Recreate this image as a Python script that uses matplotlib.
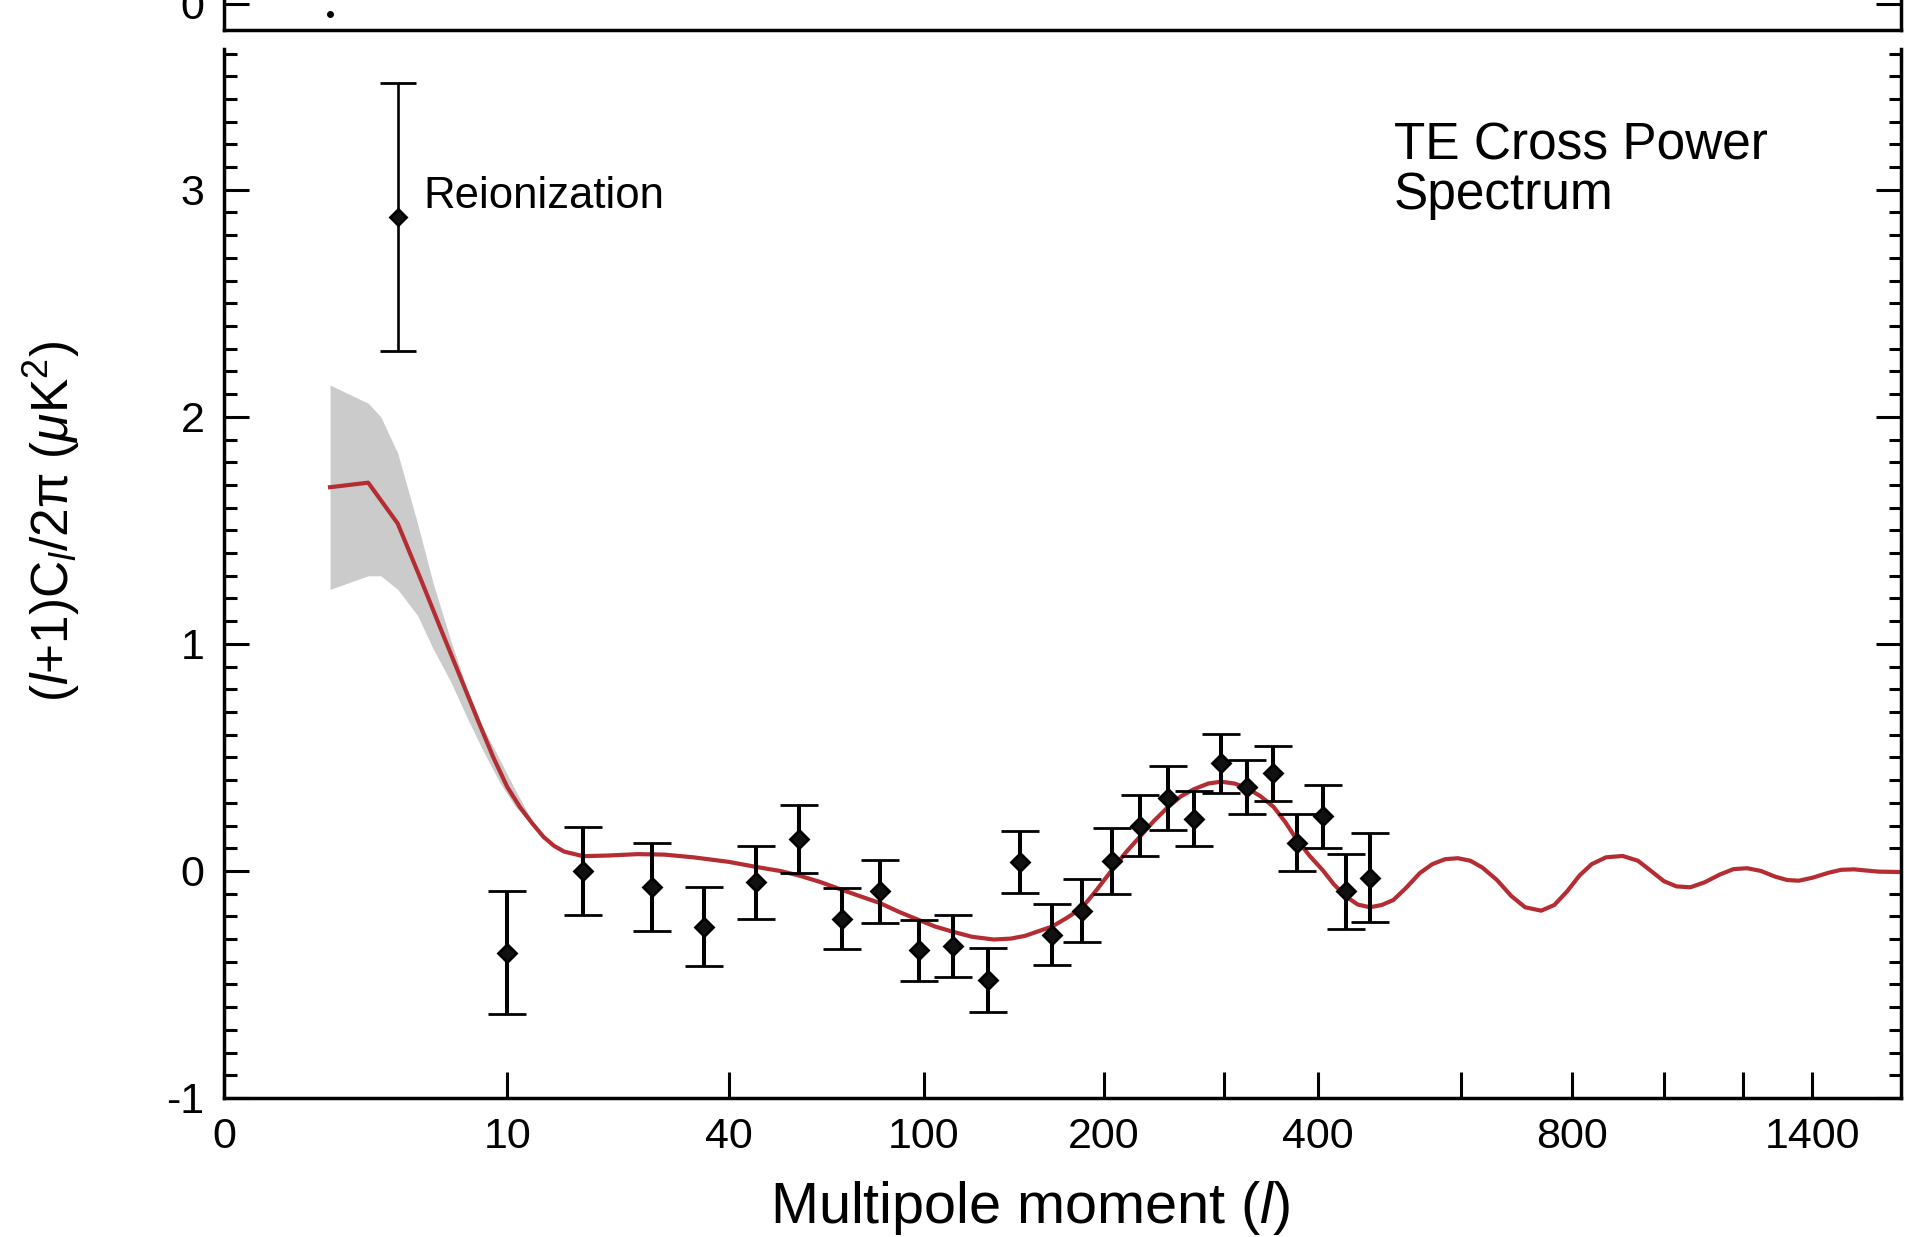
import numpy as np
import matplotlib.pyplot as plt
from matplotlib.ticker import FixedLocator, MultipleLocator, NullLocator

plt.rcParams['font.family'] = ['Liberation Sans', 'DejaVu Sans']
plt.rcParams['mathtext.fontset'] = 'custom'
plt.rcParams['mathtext.rm'] = 'Liberation Sans'
plt.rcParams['mathtext.it'] = 'Liberation Sans:italic'
plt.rcParams['axes.unicode_minus'] = False

# binned TE cross power, (l+1)C_l/2pi in uK^2
ell = [10, 17, 26, 35, 46, 57, 70, 83, 98, 113, 130, 147, 166, 185, 206,
       227, 250, 272, 297, 322, 350, 376, 406, 435, 466]
te = [-0.36, 0.00, -0.07, -0.245, -0.05, 0.14, -0.21, -0.09, -0.35, -0.33,
      -0.48, 0.04, -0.28, -0.175, 0.045, 0.20, 0.32, 0.23, 0.475, 0.37,
      0.43, 0.125, 0.24, -0.09, -0.03]
te_err = [0.27, 0.195, 0.195, 0.175, 0.16, 0.15, 0.135, 0.14, 0.135, 0.135,
          0.14, 0.135, 0.135, 0.14, 0.145, 0.135, 0.14, 0.12, 0.13, 0.12,
          0.12, 0.125, 0.14, 0.165, 0.195]

# low-l reionization point
reion_ell = 4
reion_te = 2.88
reion_err = 0.59

# best fit model
model_ell = [2, 3, 4, 5, 6, 7, 8, 9, 10, 11, 12, 13, 14, 15, 17, 20, 24, 28,
             33, 40, 46, 52, 57, 63, 70, 76, 83, 90, 98, 105, 113, 122, 133,
             142, 150, 158, 166, 175, 185, 195, 206, 216, 227, 238, 250, 261,
             272, 285, 297, 310, 322, 336, 350, 363, 376, 391, 406, 420, 435,
             450, 466, 482, 498, 516, 536, 555, 575, 595, 615, 635, 660, 685,
             710, 740, 765, 790, 815, 840, 870, 906, 940, 970, 1000, 1030,
             1064, 1100, 1140, 1175, 1212, 1250, 1290, 1325, 1359, 1400, 1450,
             1490, 1531, 1570, 1613, 1690]
model_te = [1.69, 1.71, 1.53, 1.27, 1.04, 0.84, 0.66, 0.50, 0.37, 0.28, 0.21,
            0.15, 0.11, 0.085, 0.065, 0.068, 0.074, 0.072, 0.060, 0.040,
            0.018, 0.000, -0.020, -0.048, -0.084, -0.112, -0.142, -0.180,
            -0.216, -0.245, -0.268, -0.290, -0.302, -0.298, -0.286, -0.265,
            -0.245, -0.208, -0.164, -0.085, 0.004, 0.080, 0.151, 0.220, 0.283,
            0.330, 0.360, 0.385, 0.393, 0.385, 0.366, 0.330, 0.283, 0.215,
            0.137, 0.065, 0.004, -0.060, -0.113, -0.148, -0.160, -0.150,
            -0.128, -0.075, -0.010, 0.030, 0.052, 0.056, 0.045, 0.015, -0.040,
            -0.110, -0.160, -0.175, -0.150, -0.090, -0.020, 0.030, 0.060,
            0.066, 0.045, 0.000, -0.045, -0.068, -0.072, -0.050, -0.015,
            0.008, 0.012, 0.000, -0.025, -0.040, -0.043, -0.030, -0.008,
            0.005, 0.007, 0.002, -0.003, -0.005]

# cosmic variance band around the model
band_ell = [2, 3, 3.4, 4, 4.8, 5.5, 6.4, 7.3, 8.3, 9.5, 10.6, 12, 13]
band_hi = [2.14, 2.06, 2.00, 1.84, 1.53, 1.27, 1.015, 0.805, 0.632, 0.485,
           0.358, 0.22, 0.16]
band_lo = [1.24, 1.30, 1.30, 1.24, 1.125, 0.98, 0.833, 0.678, 0.531, 0.385,
           0.285, 0.20, 0.15]

tick_ell = [10, 40, 100, 200, 400, 800, 1400]
minor_ell = [300, 600, 1000, 1200]
ell_min, ell_max = 0.49, 1690


def fwd(x):
    x = np.asarray(x, dtype=float)
    return np.sign(x) * np.abs(x) ** 0.25


def inv(u):
    u = np.asarray(u, dtype=float)
    return np.sign(u) * np.abs(u) ** 4


fig = plt.figure(figsize=(19.07, 12.37), dpi=100)
ax = fig.add_axes([0.11746, 0.11237, 0.87939, 0.84802])
top = fig.add_axes([0.11746, 0.9757, 0.87939, 0.1])

for a in (ax, top):
    a.set_xscale('function', functions=(fwd, inv))
    a.set_xlim(ell_min, ell_max)

ax.fill_between(band_ell, band_lo, band_hi, color='#cbcbcb', lw=0, zorder=1)
ax.plot(model_ell, model_te, color='#b42d33', lw=3.0, zorder=2)
ax.errorbar(ell, te, yerr=te_err, fmt='D', color='black', ms=9.5,
            mfc='#111111', mec='black', mew=2.0,
            elinewidth=2.9, capsize=14, capthick=1.2, zorder=3)
ax.errorbar([reion_ell], [reion_te], yerr=[reion_err], fmt='D', color='black',
            ms=8, mfc='#111111', mec='black', mew=2.0,
            elinewidth=1.9, capsize=13, capthick=1.2, zorder=3)

ax.text(0.1187, 0.859, 'Reionization', transform=ax.transAxes,
        fontsize=31.5, va='center', ha='left')
ax.text(0.6977, 0.884, 'TE Cross Power\nSpectrum', transform=ax.transAxes,
        fontsize=37, va='center', ha='left', linespacing=1.0)

ax.set_ylim(-1, 3.62)
ax.yaxis.set_major_locator(FixedLocator([-1, 0, 1, 2, 3]))
ax.yaxis.set_minor_locator(MultipleLocator(0.1))
ax.xaxis.set_major_locator(FixedLocator([ell_min] + tick_ell))
ax.xaxis.set_major_formatter(plt.FixedFormatter(['0'] + [str(t) for t in tick_ell]))
ax.xaxis.set_minor_locator(FixedLocator(minor_ell))

ax.tick_params(axis='y', which='both', direction='in', left=True, right=True,
               width=2.2, labelsize=31, pad=14)
ax.tick_params(axis='y', which='major', length=18)
ax.tick_params(axis='y', which='minor', length=9)
ax.tick_params(axis='x', which='both', direction='in', bottom=True, top=False,
               length=19, width=2.2, labelsize=31, pad=14)

ax.spines['top'].set_visible(False)
for s in ('left', 'right', 'bottom'):
    ax.spines[s].set_linewidth(2.5)

ax.set_xlabel(r'Multipole moment ($\mathit{l}$)', fontsize=41.5, va='center')
ax.xaxis.set_label_coords(0.481, -0.105)
ax.set_ylabel(r'($\mathit{l}$+1)C$_{\mathit{l}}$/2π ($\mu$K$^2$)',
              fontsize=37, va='center')
ax.yaxis.set_label_coords(-0.1026, 0.55)

# upper panel, only its lower edge is in frame
top.set_ylim(-0.27, 1.0)
top.plot([2], [-0.1], 'o', color='black', ms=4)
top.spines['top'].set_visible(False)
for s in ('left', 'right', 'bottom'):
    top.spines[s].set_linewidth(2.5)
top.xaxis.set_major_locator(NullLocator())
top.xaxis.set_minor_locator(NullLocator())
top.yaxis.set_major_locator(FixedLocator([0]))
top.yaxis.set_minor_locator(NullLocator())
top.tick_params(axis='y', direction='in', left=True, right=True, length=18,
                width=2.2, labelsize=31, pad=14)

fig.savefig('out.png', dpi=100, facecolor='white')
